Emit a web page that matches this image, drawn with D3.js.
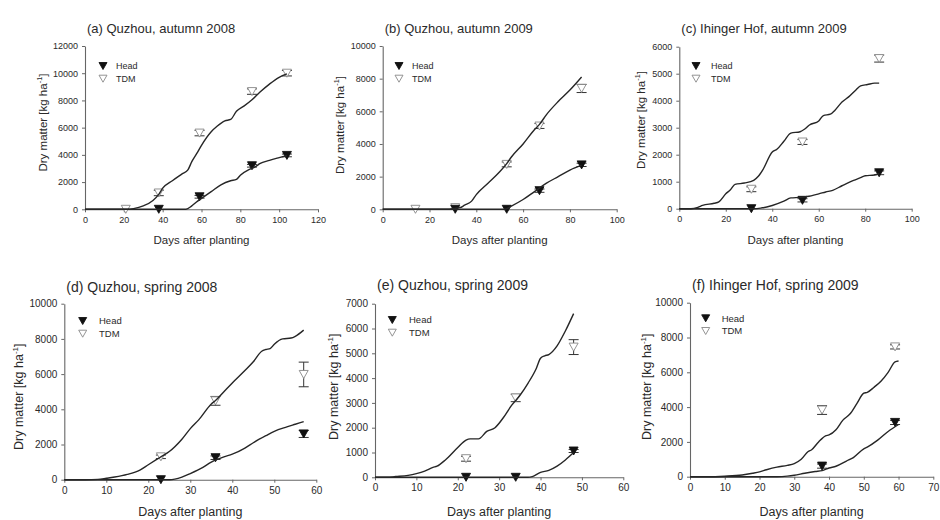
<!DOCTYPE html>
<html><head><meta charset="utf-8">
<script src="https://cdn.jsdelivr.net/npm/d3@7"></script>
<style>body{margin:0;background:#fff}svg{display:block}text{font-family:"Liberation Sans",Arial,sans-serif;fill:#2a2a2a}</style>
</head><body><svg id="c" width="940" height="520"></svg>
<script>
// ---------- data ----------
const titles = ["(a) Quzhou, autumn 2008","(b) Quzhou, autumn 2009","(c) Ihinger Hof, autumn 2009",
                "(d) Quzhou, spring 2008","(e) Quzhou, spring 2009","(f) Ihinger Hof, spring 2009"];
const xMax = [120,100,100,60,60,70];
const xStep = [20,20,20,10,10,10];
const yMax = [12000,10000,6000,10000,7000,10000];
const yStep = [2000,2000,1000,2000,1000,2000];
const legendLabels = ["Head","TDM"];

// simulated TDM curves
const simTDMDays = [
 [0,22,25,30,35,38,40,45,50,53,55,58,60,65,68,72,75,78,82,86,90,95,100,104],
 [0,28,30,33,35,38,40,45,50,53,55,60,65,67,70,75,80,85],
 [0,5,8,10,15,17,20,22,24,28,32,34,36,40,42,45,48,52,54,56,60,62,65,67,70,73,76,78,81,84,86],
 [0,5,8,10,12,15,18,20,22,23,25,28,30,32,35,36,38,40,43,45,47,48,49,50,52,54,55,57],
 [0,3,5,8,10,12,14,15,17,20,22,23,25,27,29,31,33,35,37,39,40,41,42,44,46,48],
 [0,5,10,15,18,20,22,25,28,30,32,34,35,37,39,40,42,44,46,48,50,51,53,55,57,59,60]
];
const simTDMVals = [
 [0,0,50,250,650,1100,1550,2100,2600,2900,3500,4200,4700,5700,6100,6500,6600,7200,7600,8050,8600,9200,9700,9950],
 [0,0,50,100,250,500,900,1600,2300,2800,3200,4000,4900,5200,5800,6600,7300,8100],
 [0,0,50,120,200,250,550,700,900,950,1050,1200,1450,2100,2200,2500,2800,2850,2950,3100,3250,3450,3500,3650,3950,4150,4400,4550,4600,4650,4650],
 [0,0,20,80,150,300,550,850,1150,1300,1600,2300,2900,3400,4300,4500,5000,5500,6200,6700,7300,7400,7450,7700,8000,8050,8150,8500],
 [0,0,30,80,150,250,400,450,700,1200,1500,1550,1550,1850,2000,2400,2900,3300,3800,4400,4800,4900,4950,5300,5900,6600],
 [0,0,30,100,200,280,400,550,650,750,1000,1450,1550,2000,2350,2400,2700,3250,3600,4200,4800,4850,5150,5500,6000,6600,6650]
];
// simulated Head curves
const simHeadDays = [
 [0,52,55,58,60,65,70,75,78,80,85,88,90,95,100,104],
 [0,52,55,60,65,70,75,80,85],
 [0,32,35,40,45,48,52,55,60,63,66,70,75,78,80,84,86],
 [0,25,28,30,33,35,38,40,43,45,48,50,53,55,57],
 [0,37,38,40,42,44,46,48],
 [0,25,28,30,33,36,38,40,42,45,47,50,51,54,57,60]
];
const simHeadVals = [
 [0,0,250,600,800,1300,1800,2100,2200,2500,2950,3150,3350,3600,3800,3950],
 [0,0,200,600,1100,1600,2000,2400,2700],
 [0,0,20,120,280,400,420,450,550,620,680,850,1050,1150,1220,1250,1300],
 [0,0,150,350,700,1000,1300,1450,1800,2100,2500,2750,3000,3150,3300],
 [0,0,30,200,280,450,700,1000],
 [0,0,30,80,200,300,350,500,600,900,1100,1600,1700,2100,2600,3000]
];
// observations
const obsTDMDays = [[21,38,59,86,104],[14,31,53,67,85],[31,53,86],[23,36,57],[22,34,48],[38,59]];
const obsTDMVals = [[0,1200,5600,8650,10000],[0,100,2750,5100,7400],[720,2470,5560],[1300,4480,5980],[750,3200,5250],[3830,7460]];
const obsTDMErr  = [[0,200,200,200,200],[0,0,150,150,250],[90,90,130],[100,250,700],[100,150,300],[250,120]];
const obsHeadDays = [[38,59,86,104],[31,53,67,85],[31,53,86],[23,36,57],[22,34,48],[38,59]];
const obsHeadVals = [[0,920,3200,3960],[0,0,1140,2720],[0,310,1330],[0,1250,2600],[0,0,1060],[610,3120]];
const obsHeadErr  = [[0,100,100,100],[0,0,100,100],[0,60,70],[0,100,200],[0,0,60],[120,120]];

// ---------- layout ----------
const layout = [
 {x0:85,  x1:318,   y0:209.3, y1:46,    tFs:13, lFs:11.5, tk:9,  lgFs:9,   lgx:18, lgy:20, lgdx:13, xlab:240, ylabx:42.7, ylaby:122.5, ty:33},
 {x0:382.7,x1:616.7,y0:209.3, y1:46,    tFs:13, lFs:11.5, tk:9,  lgFs:9,   lgx:16.3, lgy:20, lgdx:13, xlab:240, ylabx:340, ylaby:125, ty:33},
 {x0:679.3,x1:911.7,y0:208.7, y1:46.7,  tFs:13, lFs:11.5, tk:9,  lgFs:9,   lgx:16.7, lgy:19.3, lgdx:15, xlab:240, ylabx:640.7, ylaby:120, ty:33},
 {x0:64.3, x1:316.3,y0:479.7, y1:303.7, tFs:14, lFs:12.5, tk:10, lgFs:9.5, lgx:18.4, lgy:17.3, lgdx:16.3, xlab:512, ylabx:19, ylaby:396.7, ty:292},
 {x0:375,  x1:623.3,y0:477.3, y1:303.7, tFs:14, lFs:12.5, tk:10, lgFs:9.5, lgx:17.3, lgy:16.3, lgdx:16.7, xlab:512, ylabx:334, ylaby:386.7, ty:290},
 {x0:690,  x1:933.3,y0:476.7, y1:302.7, tFs:14, lFs:12.5, tk:10, lgFs:9.5, lgx:15.7, lgy:15.6, lgdx:16, xlab:512, ylabx:646.7, ylaby:386.7, ty:290}
];

const svg = d3.select("#c");
const tri = (cx, cy, w, h) => `M${cx-w/2},${cy-h/2}L${cx+w/2},${cy-h/2}L${cx},${cy+h/2}Z`;
const fmt = d3.format("d");

layout.forEach((L, i) => {
  const x = d3.scaleLinear().domain([0, xMax[i]]).range([L.x0, L.x1]);
  const y = d3.scaleLinear().domain([0, yMax[i]]).range([L.y0, L.y1]);
  const g = svg.append("g");

  // axes
  const xa = d3.axisBottom(x).tickValues(d3.range(0, xMax[i] + 1, xStep[i])).tickFormat(fmt).tickSize(3).tickPadding(4).tickSizeOuter(0);
  const ya = d3.axisLeft(y).tickValues(d3.range(0, yMax[i] + 1, yStep[i])).tickFormat(fmt).tickSize(3).tickPadding(4).tickSizeOuter(0);
  const gx = g.append("g").attr("transform", `translate(0,${L.y0})`).call(xa);
  const gy = g.append("g").attr("transform", `translate(${L.x0},0)`).call(ya);
  [gx, gy].forEach(a => {
    a.select(".domain").attr("stroke", "#666").attr("stroke-width", 1.1);
    a.selectAll(".tick line").attr("stroke", "#666");
    a.selectAll(".tick text").attr("font-size", L.tk).attr("fill", "#333").style("font-family", '"Liberation Sans",Arial,sans-serif');
  });

  // title
  g.append("text").attr("x", L.x0 + 2).attr("y", L.ty).attr("font-size", L.tFs).text(titles[i]);
  // x label
  g.append("text").attr("x", (L.x0 + L.x1) / 2).attr("y", L.xlab + L.lFs * 0.35)
    .attr("text-anchor", "middle").attr("font-size", L.lFs).text("Days after planting");
  // y label
  const yl = g.append("text").attr("transform", `translate(${L.ylabx + L.lFs*0.35},${L.ylaby}) rotate(-90)`)
    .attr("text-anchor", "middle").attr("font-size", L.lFs);
  yl.append("tspan").text(i < 3 ? "Dry matter [kg ha" : "Dry matter  [kg ha");
  yl.append("tspan").attr("dy", -L.lFs * 0.4).attr("font-size", L.lFs * 0.65).text("-1");
  yl.append("tspan").attr("dy", L.lFs * 0.4).text("]");

  // observations
  const drawObs = (days, vals, errs, filled) => {
    days.forEach((d, k) => {
      const cx = x(d), cy = y(vals[k]);
      if (errs[k] > 0) {
        const yt = y(vals[k] + errs[k]), yb = y(vals[k] - errs[k]);
        g.append("line").attr("x1", cx).attr("x2", cx).attr("y1", yt).attr("y2", yb).attr("stroke", "#333").attr("stroke-width", 1);
        [yt, yb].forEach(yy => g.append("line").attr("x1", cx - 5).attr("x2", cx + 5).attr("y1", yy).attr("y2", yy).attr("stroke", "#333").attr("stroke-width", 1));
      }
      g.append("path").attr("d", tri(cx, cy, 9, 8))
        .attr("fill", filled ? "#111" : "#fff").attr("stroke", filled ? "#111" : "#888").attr("stroke-width", 0.9);
    });
  };
  drawObs(obsTDMDays[i], obsTDMVals[i], obsTDMErr[i], false);
  drawObs(obsHeadDays[i], obsHeadVals[i], obsHeadErr[i], true);

  // simulated lines
  const line = d3.line().x(d => x(d[0])).y(d => y(d[1])).curve(d3.curveMonotoneX);
  [[simTDMDays[i], simTDMVals[i]], [simHeadDays[i], simHeadVals[i]]].forEach(([ds, vs]) => {
    g.append("path").datum(ds.map((d, k) => [d, vs[k]])).attr("d", line)
      .attr("fill", "none").attr("stroke", "#262626").attr("stroke-width", 1.4);
  });

  // legend
  legendLabels.forEach((lab, k) => {
    const lx = L.x0 + L.lgx, ly = L.y1 + L.lgy + k * 12.7;
    g.append("path").attr("d", tri(lx, ly, 8, 7))
      .attr("fill", k === 0 ? "#111" : "#fff").attr("stroke", k === 0 ? "#111" : "#888").attr("stroke-width", 0.9);
    g.append("text").attr("x", lx + L.lgdx).attr("y", ly + L.lgFs * 0.35).attr("font-size", L.lgFs).text(lab);
  });
});
</script></body></html>
